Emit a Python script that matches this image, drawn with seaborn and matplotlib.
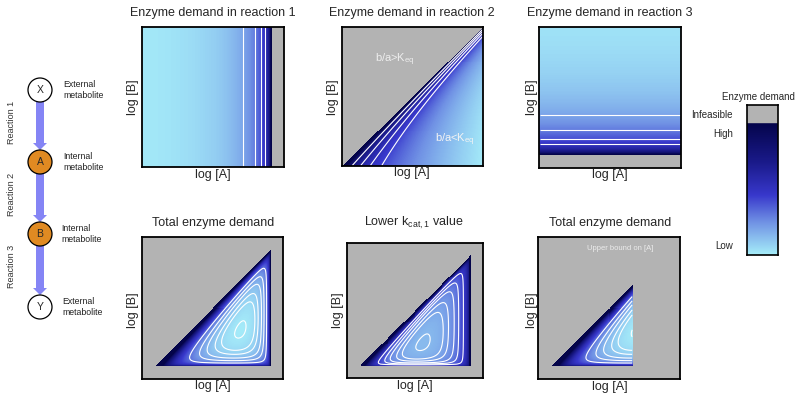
import numpy as np
import matplotlib
matplotlib.use('Agg')
import matplotlib.pyplot as plt
import seaborn as sns
from matplotlib.colors import LinearSegmentedColormap
from matplotlib.patches import Circle, FancyArrow, Rectangle

sns.set_theme(style='white')
plt.rcParams['font.family'] = ['Liberation Sans', 'DejaVu Sans']
plt.rcParams['mathtext.default'] = 'regular'

W, H = 802, 396

# normalised log concentrations of the internal metabolites
n_grid = 141
log_a = np.linspace(0, 1, n_grid)
log_b = np.linspace(0, 1, n_grid)

# model parameters
a_max = 0.915          # reaction 1 infeasible above this log [A]
b_min = 0.086          # reaction 3 infeasible below this log [B]
a_upper = 0.67         # extra upper bound on [A]
k_force = [3.0, 3.0, 2.3]
sat_s2 = 3.2           # reaction 2 substrate (A) saturation
power_2 = 2.0
sat_K3, sat_s3 = 0.5, 5.0
kcat_inv = [5.46, 1.0, 2.41]
kcat_inv_low = [34.6, 1.0, 2.41]

levels_1 = [0.8, 1.2, 1.6, 2.0]
levels_2 = [3.43, 4.16, 5.04, 6.32]
levels_3 = [0.8, 1.2, 1.6, 2.0]
total_steps = [0.02, 0.175, 0.3, 0.5, 0.74, 1.15]

cmap_colors = ['#a6eef9', '#6f90e4', '#3838cc', '#1a1a8a', '#04044a']
cmap_stops = [0.0, 0.25, 0.45, 0.7, 1.0]
GRAY = '#b3b3b3'
ARROW = '#8585f5'
ORANGE = '#e08a22'

cmap = LinearSegmentedColormap.from_list('demand', list(zip(cmap_stops, cmap_colors)))

A, B = np.meshgrid(log_a, log_b)


def thermo(f):
    with np.errstate(divide='ignore', invalid='ignore', over='ignore'):
        out = 1.0 / (1.0 - np.exp(-f))
    out[f <= 0] = np.nan
    return out


def demands(w):
    d1 = w[0] * thermo(k_force[0] * (a_max - A))
    d2 = w[1] * np.exp(sat_s2 * (1 - A)) * thermo(k_force[1] * (A - B)) ** power_2
    d3 = w[2] * (1 + sat_K3 * np.exp(-sat_s3 * B)) * thermo(k_force[2] * (B - b_min))
    return d1, d2, d3


def px_axes(fig, x0, y0, x1, y1):
    return fig.add_axes([x0 / W, 1 - y1 / H, (x1 - x0) / W, (y1 - y0) / H])


def ftext(fig, x, y, s, **kw):
    fig.text(x / W, 1 - y / H, s, **kw)


def field(ax, L, vmin, vmax, levels):
    sns.heatmap(L, cmap=cmap, vmin=vmin, vmax=vmax, cbar=False,
                xticklabels=False, yticklabels=False, ax=ax,
                linewidths=0, linecolor='none', rasterized=True)
    ax.invert_yaxis()
    ax.set_facecolor(GRAY)
    xc = np.arange(n_grid) + 0.5
    ax.contour(xc, xc, np.ma.masked_invalid(L), levels=levels,
               colors='white', linewidths=0.8)
    for s in ax.spines.values():
        s.set_visible(True)
        s.set_color('black')
        s.set_linewidth(1.3)


fig = plt.figure(figsize=(W / 100, H / 100), dpi=100)

d1, d2, d3 = demands([1.0, 1.0, 1.0])
e1, e2, e3 = demands(kcat_inv)
f1, f2, f3 = demands(kcat_inv_low)
with np.errstate(invalid='ignore', divide='ignore'):
    L1, L2, L3 = np.log(d1), np.log(d2), np.log(d3)
    L_tot = np.log(e1 + e2 + e3)
    L_low = np.log(f1 + f2 + f3)
L_bound = np.where(A > a_upper, np.nan, L_tot)

# top row
ax1 = px_axes(fig, 142, 27, 284, 167)
field(ax1, L1, 0, 4, levels_1)
ax2 = px_axes(fig, 342, 27, 483, 166)
field(ax2, L2, 0, 8, levels_2)
ax3 = px_axes(fig, 539, 27, 681, 168)
field(ax3, L3, 0, 4, levels_3)

# bottom row
m_tot = np.nanmin(L_tot)
m_low = np.nanmin(L_low)
ax4 = px_axes(fig, 142, 237, 283, 379)
field(ax4, L_tot, m_tot - 0.05, m_tot + 3.6, list(m_tot + np.array(total_steps)))
ax5 = px_axes(fig, 347, 243, 483, 378)
field(ax5, L_low, m_low - 0.5, m_low + 3.1, list(m_low + np.array(total_steps)))
ax6 = px_axes(fig, 538, 237, 680, 379)
field(ax6, L_bound, m_tot - 0.05, m_tot + 3.6, list(m_tot + np.array(total_steps)))

# titles and axis labels
fs = 9
ftext(fig, 213, 13, 'Enzyme demand in reaction 1', ha='center', va='center', fontsize=fs)
ftext(fig, 412, 13, 'Enzyme demand in reaction 2', ha='center', va='center', fontsize=fs)
ftext(fig, 610, 13, 'Enzyme demand in reaction 3', ha='center', va='center', fontsize=fs)
ftext(fig, 213, 223, 'Total enzyme demand', ha='center', va='center', fontsize=fs)
ftext(fig, 414, 223, r'Lower k$_{cat,1}$ value', ha='center', va='center', fontsize=fs)
ftext(fig, 610, 223, 'Total enzyme demand', ha='center', va='center', fontsize=fs)

for x, y in [(213, 175), (412, 173), (610, 175), (213, 386), (415, 386), (610, 387)]:
    ftext(fig, x, y, 'log [A]', ha='center', va='center', fontsize=fs)
for x, y in [(133, 97), (333, 97), (532, 97), (133, 310), (338, 310), (532, 310)]:
    ftext(fig, x, y, 'log [B]', ha='center', va='center', fontsize=fs, rotation=90)

ftext(fig, 375, 60, r'b/a>K$_{eq}$', ha='left', va='center', fontsize=8, color='#eeeeee')
ftext(fig, 435, 140, r'b/a<K$_{eq}$', ha='left', va='center', fontsize=8, color='#f4f4f4')
ftext(fig, 620, 249, 'Upper bound on [A]', ha='center', va='center', fontsize=5.5, color='#ececec')

# colour key
cax = px_axes(fig, 747, 105, 778, 255)
grad = np.linspace(0, 1, 256)[:, None]
cax.imshow(grad, cmap=cmap, aspect='auto', origin='lower', extent=(0, 1, 0, 1))
cax.add_patch(Rectangle((0, 1), 1, 0.13, color=GRAY))
cax.set_xlim(0, 1)
cax.set_ylim(0, 1.13)
cax.set_xticks([])
cax.set_yticks([])
for s in cax.spines.values():
    s.set_visible(True)
    s.set_color('black')
    s.set_linewidth(1.2)
ftext(fig, 758, 97, 'Enzyme demand', ha='center', va='center', fontsize=7)
ftext(fig, 733, 115, 'Infeasible', ha='right', va='center', fontsize=7)
ftext(fig, 733, 134, 'High', ha='right', va='center', fontsize=7)
ftext(fig, 733, 246, 'Low', ha='right', va='center', fontsize=7)

# pathway sketch
dax = fig.add_axes([0, 0, 130 / W, 1])
dax.set_xlim(0, 130)
dax.set_ylim(H, 0)
dax.axis('off')
nodes = ['X', 'A', 'B', 'Y']
node_y = [90, 162, 234, 307]
node_fill = ['white', ORANGE, ORANGE, 'white']
node_text = ['External\nmetabolite', 'Internal\nmetabolite', 'Internal\nmetabolite', 'External\nmetabolite']
node_text_x = [63, 63, 61, 62]
reactions = ['Reaction 1', 'Reaction 2', 'Reaction 3']
r = 12
for i in range(3):
    y0 = node_y[i] + r
    y1 = node_y[i + 1] - r
    dax.add_patch(FancyArrow(40, y0, 0, y1 - y0, width=8, head_width=14, head_length=7,
                             length_includes_head=True, color=ARROW, lw=0))
    dax.text(12, (node_y[i] + node_y[i + 1]) / 2 - 4, reactions[i], rotation=90,
             ha='center', va='center', fontsize=6.5, color='#333333')
for name, y, fc, txt, tx in zip(nodes, node_y, node_fill, node_text, node_text_x):
    dax.add_patch(Circle((40, y), r, facecolor=fc, edgecolor='black', lw=0.9, zorder=3))
    dax.text(40, y, name, ha='center', va='center', fontsize=7.5, zorder=4)
    dax.text(tx, y, txt, ha='left', va='center', fontsize=6.3, color='#222222', linespacing=1.15)

fig.savefig('out.png', dpi=100)
